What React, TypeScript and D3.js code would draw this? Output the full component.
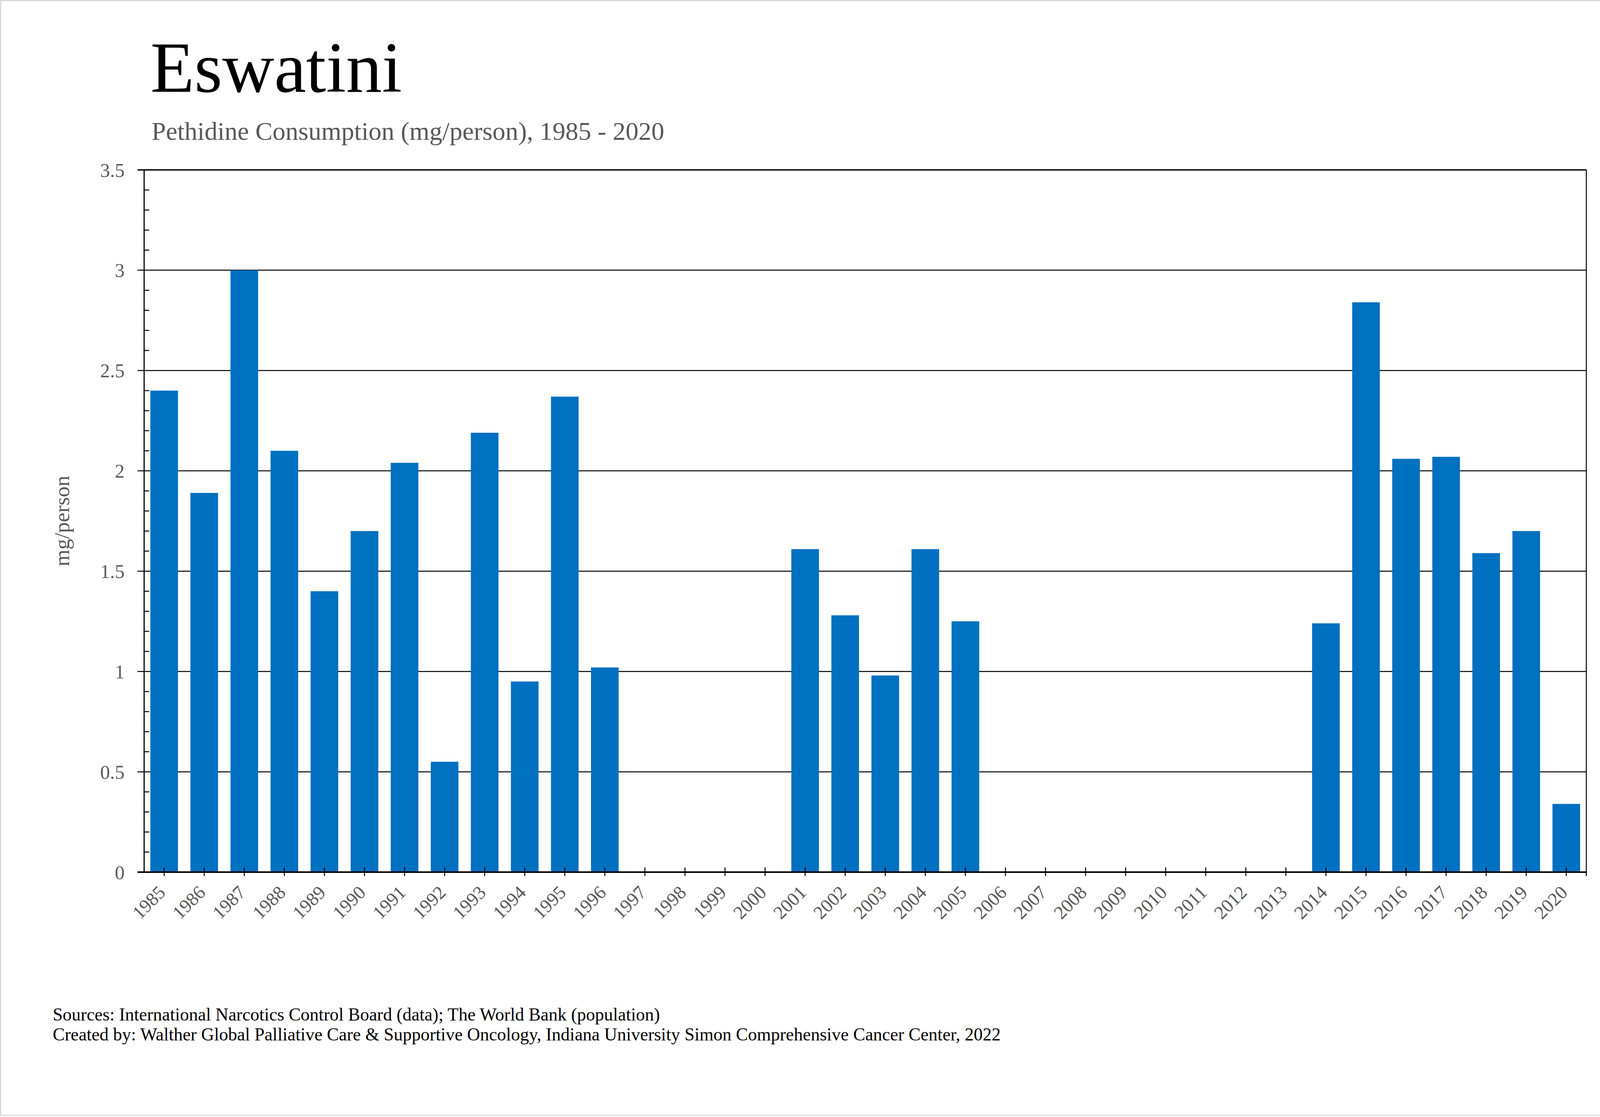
import * as d3 from "d3";

const W = 4216;
const H = 2860;

const years = [
  "1985", "1986", "1987", "1988", "1989", "1990", "1991", "1992", "1993", "1994",
  "1995", "1996", "1997", "1998", "1999", "2000", "2001", "2002", "2003", "2004",
  "2005", "2006", "2007", "2008", "2009", "2010", "2011", "2012", "2013", "2014",
  "2015", "2016", "2017", "2018", "2019", "2020",
];

// mg/person, null = no bar
const values: (number | null)[] = [
  2.4, 1.89, 3.0, 2.1, 1.4, 1.7, 2.04, 0.55, 2.19, 0.95,
  2.37, 1.02, null, null, null, null, 1.61, 1.28, 0.98, 1.61,
  1.25, null, null, null, null, null, null, null, null, 1.24,
  2.84, 2.06, 2.07, 1.59, 1.7, 0.34,
];

const majorTicks = [0, 0.5, 1, 1.5, 2, 2.5, 3, 3.5];
const minorTicks = d3.range(0, 35).map((i) => i / 10).filter((v) => Math.round(v * 10) % 5 !== 0);

const FONT = '"Liberation Serif", "Times New Roman", serif';
const BAR = "#0070C0";
const GREY = "#595959";

export default function App() {
  const left = 369;
  const right = 4061;
  const top = 435;
  const bottom = 2233;

  const x = d3.scaleBand<string>().domain(years).range([left, right]).paddingInner(0.31).paddingOuter(0.155);
  const y = d3.scaleLinear().domain([0, 3.5]).range([bottom, top]);
  const half = x.bandwidth() / 2;

  return (
    <div style={{ position: "absolute", left: 0, top: 0 }}>
      <svg width={W} height={H} viewBox={`0 0 ${W} ${H}`} style={{ display: "block", background: "#fff" }}>
        <rect x={1.5} y={1.5} width={W - 9} height={H - 6} fill="#fff" stroke="#d9d9d9" strokeWidth={3} />

        <text x={385} y={235} fontFamily={FONT} fontSize={184} fill="#000">Eswatini</text>
        <text x={388} y={358} fontFamily={FONT} fontSize={66} fill={GREY}>
          Pethidine Consumption (mg/person), 1985 - 2020
        </text>

        {/* gridlines with outward major ticks */}
        {majorTicks.filter((v) => v > 0 && v < 3.5).map((v) => (
          <line key={`g${v}`} x1={352} x2={right} y1={y(v)} y2={y(v)} stroke="#000" strokeWidth={2.5} />
        ))}

        {/* bars */}
        {years.map((yr, i) =>
          values[i] == null ? null : (
            <rect
              key={yr}
              x={x(yr)}
              y={y(values[i] as number)}
              width={x.bandwidth()}
              height={bottom - y(values[i] as number)}
              fill={BAR}
            />
          )
        )}

        {/* minor ticks inward */}
        {minorTicks.map((v) => (
          <line key={`m${v}`} x1={left} x2={left + 13} y1={y(v)} y2={y(v)} stroke="#000" strokeWidth={2.5} />
        ))}

        {/* frame */}
        <line x1={352} x2={right} y1={top} y2={top} stroke="#000" strokeWidth={3.5} />
        <line x1={right} x2={right} y1={top} y2={bottom + 10} stroke="#000" strokeWidth={2.5} />
        <line x1={left} x2={left} y1={top} y2={bottom} stroke="#000" strokeWidth={3} />
        <line x1={352} x2={right + 1} y1={bottom} y2={bottom} stroke="#000" strokeWidth={4} />

        {/* x ticks */}
        {years.map((yr) => (
          <line
            key={`t${yr}`}
            x1={(x(yr) as number) + half}
            x2={(x(yr) as number) + half}
            y1={bottom - 12}
            y2={bottom + 10}
            stroke="#000"
            strokeWidth={2.5}
          />
        ))}

        {/* y tick labels */}
        {majorTicks.map((v) => (
          <text
            key={`yl${v}`}
            x={319}
            y={y(v)}
            dy="0.35em"
            textAnchor="end"
            fontFamily={FONT}
            fontSize={50}
            fill={GREY}
          >
            {String(v)}
          </text>
        ))}

        {/* x tick labels */}
        {years.map((yr) => {
          const cx = (x(yr) as number) + half + 6;
          const cy = bottom + 55;
          return (
            <text
              key={`xl${yr}`}
              transform={`translate(${cx},${cy}) rotate(-45)`}
              textAnchor="end"
              fontFamily={FONT}
              fontSize={48}
              fill={GREY}
            >
              {yr}
            </text>
          );
        })}

        <text
          transform={`translate(177,${(top + bottom) / 2}) rotate(-90)`}
          textAnchor="middle"
          fontFamily={FONT}
          fontSize={55}
          fill={GREY}
        >
          mg/person
        </text>

        <text x={135} y={2613} fontFamily={FONT} fontSize={46} fill="#000">
          Sources: International Narcotics Control Board (data); The World Bank (population)
        </text>
        <text x={135} y={2664} fontFamily={FONT} fontSize={46} fill="#000">
          Created by: Walther Global Palliative Care &amp; Supportive Oncology, Indiana University Simon Comprehensive Cancer Center, 2022
        </text>
      </svg>
    </div>
  );
}
